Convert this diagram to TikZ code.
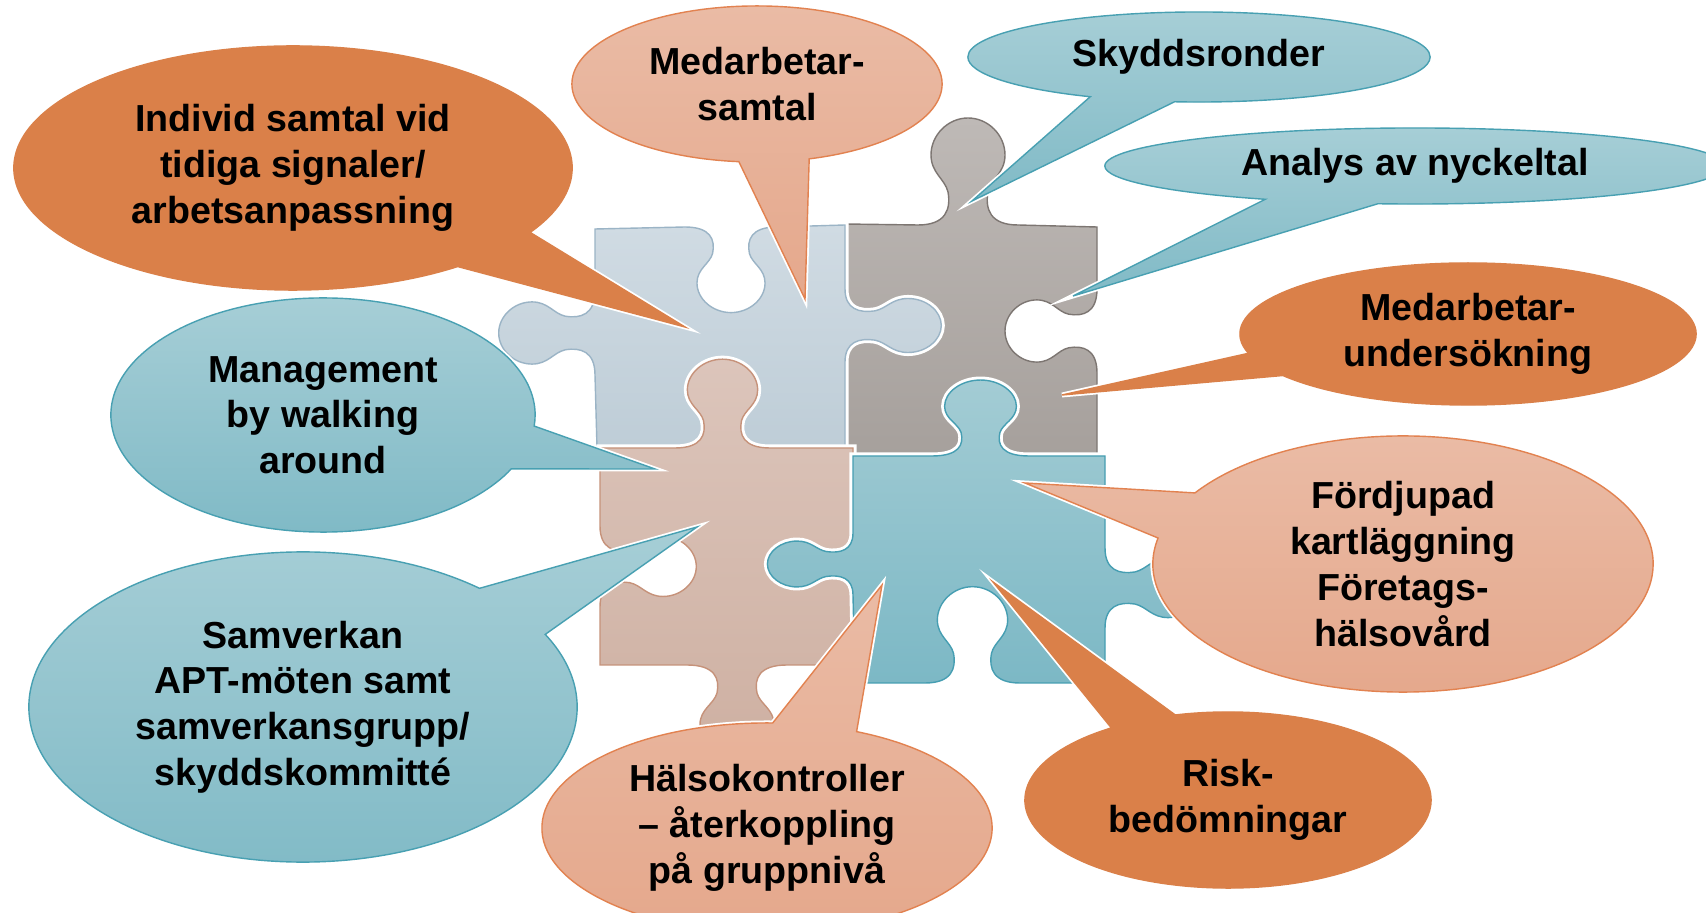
\documentclass[tikz,border=0pt]{standalone}
\usepackage{fontspec}
\setmainfont{Liberation Sans}
\usepackage{xcolor}
\usetikzlibrary{shapes.callouts}
% puzzle colours
\definecolor{blueTop}{RGB}{208,219,227}
\definecolor{blueBottom}{RGB}{190,205,215}
\definecolor{blueEdge}{RGB}{155,180,198}
\definecolor{grayTop}{RGB}{190,185,182}
\definecolor{grayBottom}{RGB}{166,160,156}
\definecolor{grayEdge}{RGB}{125,118,114}
\definecolor{tanTop}{RGB}{220,197,187}
\definecolor{tanBottom}{RGB}{206,176,162}
\definecolor{tanEdge}{RGB}{198,146,122}
\definecolor{tealPieceTop}{RGB}{163,204,212}
\definecolor{tealPieceBottom}{RGB}{124,184,197}
\definecolor{tealPieceEdge}{RGB}{70,158,178}
% callout colours
\definecolor{calloutOrange}{RGB}{218,128,73}
\definecolor{salmonTop}{RGB}{234,187,165}
\definecolor{salmonBottom}{RGB}{229,168,140}
\definecolor{salmonEdge}{RGB}{226,130,80}
\definecolor{tealTop}{RGB}{166,206,214}
\definecolor{tealBottom}{RGB}{128,186,198}
\definecolor{tealEdge}{RGB}{72,160,178}
\tikzset{
    piece/.style={preaction={draw=white, line width=2pt}, line width=0.4pt},
    bubble/.style={ellipse callout, align=center, inner sep=0pt,
        callout pointer arc=22,
        font=\bfseries\fontsize{10.7pt}{13pt}\selectfont,
        preaction={draw=white, line width=1.4pt, miter limit=12}},
    orange bubble/.style={bubble, fill=calloutOrange, draw=calloutOrange},
    salmon bubble/.style={bubble, top color=salmonTop, bottom color=salmonBottom, draw=salmonEdge},
    teal bubble/.style={bubble, top color=tealTop, bottom color=tealBottom, draw=tealEdge}
}
% one knob, 100 wide along +x, sticking out towards -y
\def\knobpath{.. controls (28,0) and (33,-16) .. (30,-33)
    .. controls (27,-46) and (13,-52) .. (13,-70)
    .. controls (13,-90) and (30,-107) .. (50,-107)
    .. controls (70,-107) and (87,-90) .. (87,-70)
    .. controls (87,-52) and (73,-46) .. (70,-33)
    .. controls (67,-16) and (72,0) .. (100,0)}
% knob (positive yscale) or hole (negative yscale) starting at (#1,#2)
\newcommand{\puzzletab}[5]{-- (#1,#2) {[shift={(#1,#2)}, rotate=#3, xscale=#4, yscale=#5] \knobpath}}

\begin{document}
\begin{tikzpicture}[x=0.01cm, y=-0.01cm]
    \clip (0,0) rectangle (1706,913);

    % Draw the puzzle pieces
    \path[piece, top color=grayTop, bottom color=grayBottom, draw=grayEdge]
        (845,224) \puzzletab{918}{225}{0}{1}{1} -- (1097,227)
        \puzzletab{1097}{289}{-90}{0.84}{-0.86} -- (1097,456)
        \puzzletab{1029}{456}{180}{0.97}{-0.71} -- (845,456)
        \puzzletab{845}{362}{90}{0.73}{-0.9} -- cycle;
    \path[piece, top color=blueTop, bottom color=blueBottom, draw=blueEdge]
        (595,229) \puzzletab{685}{227}{0}{0.92}{-0.8} -- (845,225)
        \puzzletab{845}{289}{-90}{0.73}{0.9} -- (845,448)
        \puzzletab{770}{448}{180}{0.95}{-0.83} -- (597,448)
        \puzzletab{595}{375}{90}{0.84}{0.9} -- cycle;
    \path[piece, top color=tanTop, bottom color=tanBottom, draw=tanEdge]
        (600,448) \puzzletab{675}{448}{0}{0.95}{0.83} -- (853,448)
        \puzzletab{853}{533}{-90}{0.62}{-0.8} -- (853,665)
        \puzzletab{787}{665}{180}{1}{0.85} -- (600,665)
        \puzzletab{600}{607}{90}{0.81}{-0.9} -- cycle;
    \path[piece, top color=tealPieceTop, bottom color=tealPieceBottom, draw=tealPieceEdge]
        (853,456) \puzzletab{932}{456}{0}{0.97}{0.71} -- (1105,456)
        \puzzletab{1105}{548}{-90}{0.8}{0.9} -- (1105,683)
        \puzzletab{1020}{683}{180}{0.95}{-0.9} -- (855,683)
        \puzzletab{853}{595}{90}{0.62}{0.8} -- cycle;

    % Pointer tips
    \coordinate (individ tip) at (685,327);
    \coordinate (medsamtal tip) at (805,299);
    \coordinate (skydd tip) at (972,201);
    \coordinate (analys tip) at (1073,296);
    \coordinate (medunders tip) at (1062,395);
    \coordinate (fordjupad tip) at (1025,483);
    \coordinate (risk tip) at (993,582);
    \coordinate (halsa tip) at (882,585);
    \coordinate (samverkan tip) at (697,527);
    \coordinate (mbwa tip) at (655,469);

    % Draw the callouts
    \node[orange bubble, minimum width=5.58cm, minimum height=2.44cm,
        callout absolute pointer={(individ tip)}]
        (individ) at (293,168) {Individ samtal vid\\tidiga signaler/\\arbetsanpassning};
    \node[salmon bubble, minimum width=3.70cm, minimum height=1.56cm,
        callout absolute pointer={(medsamtal tip)}]
        (medsamtal) at (757,84) {Medarbetar-\\samtal};
    \node[teal bubble, minimum width=4.62cm, minimum height=0.90cm,
        callout absolute pointer={(skydd tip)}]
        (skydd) at (1199,57) {Skyddsronder};
    \node[teal bubble, minimum width=6.20cm, minimum height=0.76cm,
        callout absolute pointer={(analys tip)}]
        (analys) at (1415,166) {Analys av nyckeltal};
    \node[orange bubble, minimum width=4.56cm, minimum height=1.42cm,
        callout absolute pointer={(medunders tip)}, callout pointer arc=20]
        (medunders) at (1468,334) {Medarbetar-\\undersökning};
    \node[salmon bubble, minimum width=5.00cm, minimum height=2.56cm,
        callout absolute pointer={(fordjupad tip)}]
        (fordjupad) at (1403,564) {Fördjupad\\kartläggning\\Företags-\\hälsovård};
    \node[orange bubble, minimum width=4.06cm, minimum height=1.76cm,
        callout absolute pointer={(risk tip)}, callout pointer arc=20]
        (risk) at (1228,800) {Risk-\\bedömningar};
    \node[salmon bubble, minimum width=4.50cm, minimum height=2.10cm,
        callout absolute pointer={(halsa tip)}]
        (halsa) at (767,828) {Hälsokontroller\\– återkoppling\\på gruppnivå};
    \node[teal bubble, minimum width=5.48cm, minimum height=3.10cm,
        callout absolute pointer={(samverkan tip)}]
        (samverkan) at (303,707) {Samverkan\\APT-möten samt\\samverkansgrupp/\\skyddskommitté};
    \node[teal bubble, minimum width=4.24cm, minimum height=2.34cm,
        callout absolute pointer={(mbwa tip)}]
        (mbwa) at (323,415) {Management\\by walking\\around};
\end{tikzpicture}
\end{document}
